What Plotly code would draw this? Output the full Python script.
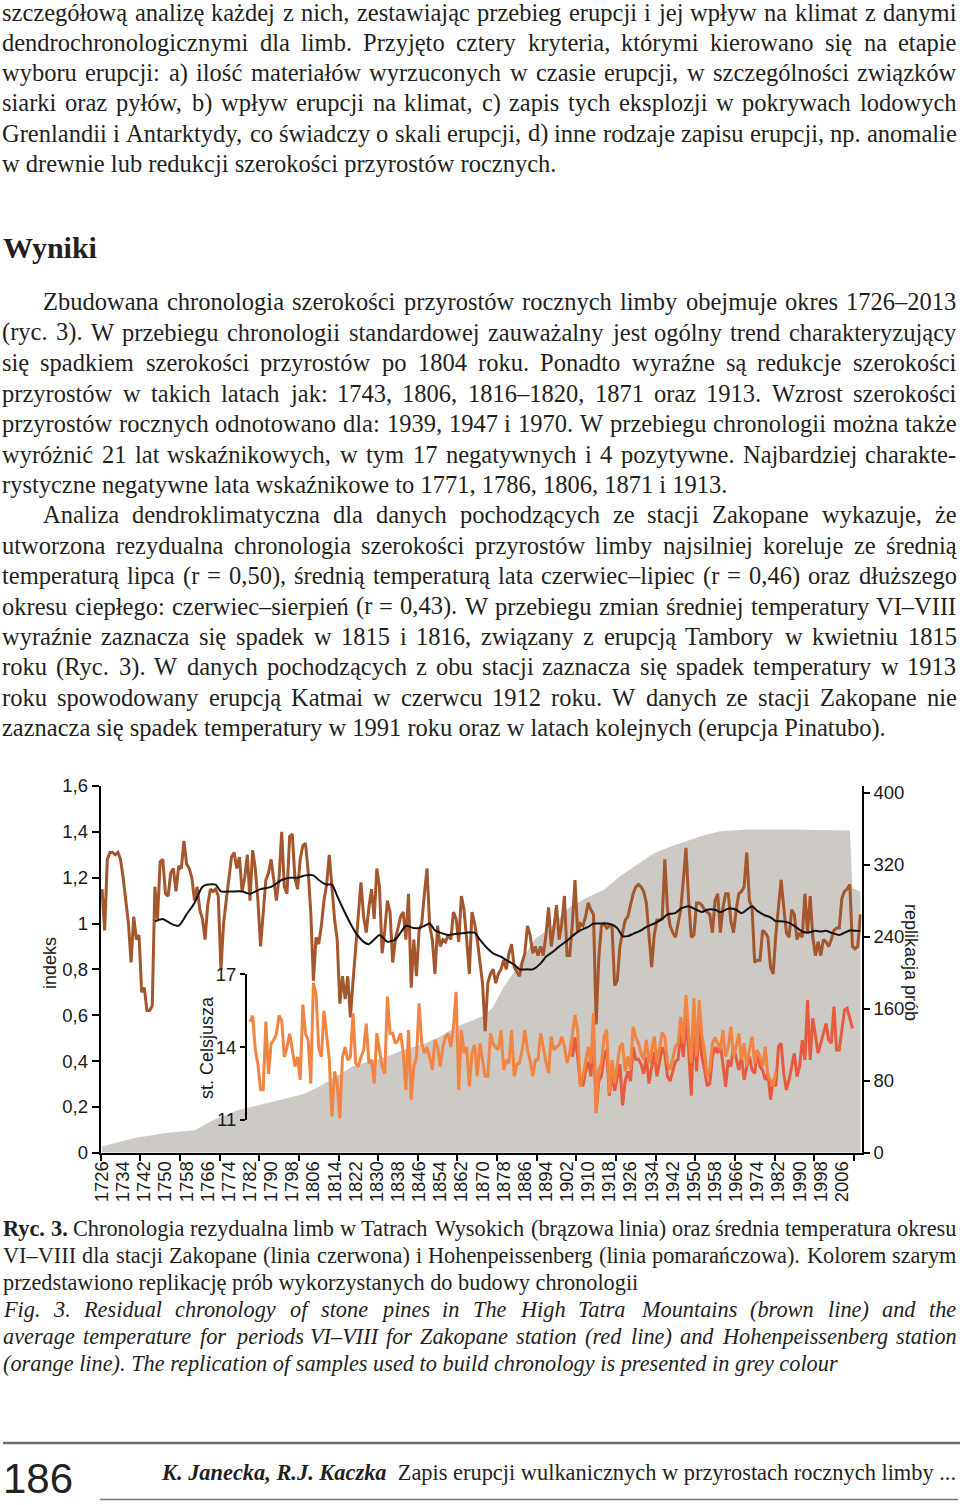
import plotly.graph_objects as go

W, H = 960, 1505

# ---- data ----
years = list(range(1726, 2014))
brown_index = [
    1.15, 0.97, 1.28, 1.31, 1.31, 1.30, 1.31, 1.28, 1.20, 1.10,
    1.00, 0.83, 1.03, 0.93, 0.95, 0.70, 0.72, 0.62, 0.62, 0.64,
    1.16, 1.02, 1.27, 1.28, 1.13, 1.12, 1.22, 1.24, 1.14, 1.25,
    1.24, 1.36, 1.26, 1.24, 1.20, 1.10, 1.16, 1.06, 1.02, 0.93,
    1.08, 1.15, 1.14, 1.15, 1.12, 0.80, 1.00, 1.10, 1.20, 1.29,
    1.31, 1.24, 1.29, 1.14, 1.20, 1.30, 1.10, 1.32, 1.24, 1.10,
    0.90, 1.05, 1.19, 1.22, 1.28, 1.19, 1.10, 1.20, 1.40, 1.16,
    1.13, 1.38, 1.39, 1.20, 1.15, 1.28, 1.34, 1.35, 1.23, 1.05,
    0.75, 0.94, 0.91, 0.99, 1.10, 1.17, 1.30, 1.16, 1.02, 0.93,
    0.65, 0.77, 0.67, 0.77, 0.59, 0.75, 0.90, 1.05, 1.18, 1.03,
    0.96, 1.07, 1.15, 1.02, 1.24, 1.16, 0.87, 0.97, 1.10, 1.05,
    0.83, 0.93, 0.98, 1.03, 1.05, 0.93, 1.13, 0.72, 0.93, 0.77,
    0.97, 1.00, 1.13, 1.24, 0.99, 0.93, 0.78, 0.99, 0.90, 0.93,
    0.92, 0.95, 0.93, 1.05, 1.02, 0.92, 1.12, 1.06, 0.93, 0.78,
    1.05, 1.00, 0.93, 0.82, 0.74, 0.53, 0.74, 0.78, 0.80, 0.74,
    0.78, 0.80, 0.84, 0.80, 0.87, 0.91, 0.81, 0.79, 0.77, 0.83,
    0.87, 0.99, 0.95, 0.87, 0.90, 0.86, 0.90, 0.86, 0.95, 1.07,
    0.90, 0.98, 1.08, 0.93, 1.00, 1.12, 0.86, 0.86, 1.00, 1.19,
    0.96, 1.00, 0.99, 1.03, 1.09, 1.06, 1.04, 0.56, 0.85, 0.99,
    1.00, 0.98, 0.99, 0.99, 0.73, 0.75, 0.90, 0.96, 1.015, 1.03,
    1.08, 1.13, 1.16, 1.17, 1.16, 1.14, 1.09, 0.96, 0.81, 0.95,
    1.015, 1.015, 1.02, 1.28, 1.06, 0.99, 0.96, 0.94, 1.00, 1.06,
    1.19, 1.33, 1.10, 0.94, 0.95, 1.09, 1.09, 1.08, 1.06, 1.05,
    1.04, 0.96, 1.10, 1.13, 0.96, 1.07, 1.13, 1.13, 1.01, 0.96,
    1.06, 1.13, 1.14, 1.16, 1.31, 1.10, 1.07, 0.83, 0.84, 0.84,
    0.97, 0.96, 0.94, 0.81, 0.78, 0.95, 1.07, 1.19, 1.07, 0.96,
    0.94, 1.06, 1.04, 0.93, 0.96, 0.94, 1.13, 0.96, 1.12, 0.94,
    0.86, 0.92, 0.86, 0.93, 0.92, 0.90, 0.93, 0.97, 0.98, 0.98,
    1.11, 1.14, 1.15, 1.17, 0.90, 0.89, 0.90, 1.04,
]

smooth_years = [
    1746, 1749, 1752, 1755, 1758, 1761, 1764, 1766, 1769, 1771, 1775, 1779,
    1782, 1786, 1790, 1794, 1797, 1800, 1803, 1806, 1808, 1811, 1813, 1815,
    1817, 1820, 1822, 1825, 1827, 1829, 1831, 1833, 1834, 1837, 1839, 1841,
    1844, 1846, 1848, 1850, 1852, 1854, 1857, 1860, 1864, 1867, 1869, 1872,
    1874, 1877, 1879, 1882, 1884, 1887, 1889, 1892, 1894, 1897, 1899, 1902,
    1905, 1907, 1910, 1912, 1914, 1917, 1919, 1921, 1923, 1925, 1927, 1930,
    1932, 1935, 1938, 1940, 1943, 1945, 1948, 1950, 1953, 1955, 1958, 1960,
    1963, 1966, 1968, 1970, 1972, 1974, 1977, 1979, 1981, 1983, 1986, 1988,
    1991, 1993, 1996, 1998, 2000, 2002, 2005, 2007, 2009, 2011, 2013,
]
smooth_index = [
    1.01, 1.02, 1.00, 0.99, 1.04, 1.09, 1.16, 1.17, 1.17, 1.14, 1.14, 1.14,
    1.13, 1.15, 1.16, 1.19, 1.20, 1.20, 1.21, 1.21, 1.19, 1.17, 1.17, 1.12,
    1.07, 1.00, 0.96, 0.92, 0.91, 0.93, 0.95, 0.93, 0.92, 0.93, 0.96, 0.99,
    0.98, 0.98, 0.99, 1.00, 0.97, 0.96, 0.95, 0.955, 0.96, 0.96, 0.93, 0.89,
    0.87, 0.855, 0.84, 0.82, 0.80, 0.80, 0.80, 0.826, 0.855, 0.88, 0.90, 0.925,
    0.955, 0.97, 0.985, 1.00, 1.00, 1.00, 0.995, 0.98, 0.945, 0.945, 0.955, 0.97,
    0.985, 1.00, 1.02, 1.04, 1.045, 1.065, 1.075, 1.065, 1.05, 1.06, 1.06, 1.05,
    1.065, 1.06, 1.045, 1.06, 1.075, 1.055, 1.035, 1.027, 1.01, 1.01, 1.003, 0.99,
    0.965, 0.96, 0.968, 0.965, 0.968, 0.96, 0.95, 0.96, 0.97, 0.968, 0.968,
]

hohen_years = list(range(1782, 1982))
hohen_temp = [
    15.05, 15.3, 13.9, 13.3, 12.25, 12.25, 15.05, 12.9, 14.15, 14.3,
    14.55, 15.3, 15.1, 13.6, 14.0, 14.55, 13.9, 13.2, 13.6, 12.65,
    15.75, 14.55, 14.3, 12.5, 16.65, 16.2, 14.0, 13.6, 15.5, 14.6,
    13.5, 11.15, 13.0, 12.5, 11.07, 13.6, 14.0, 13.47, 13.6, 15.39,
    13.33, 13.2, 13.6, 13.88, 14.97, 13.33, 13.47, 12.51, 14.57, 13.88,
    13.2, 12.92, 16.08, 14.57, 14.57, 14.16, 14.29, 14.57, 13.75, 12.24,
    14.7, 11.84, 13.2, 13.6, 15.8, 14.16, 13.75, 14.0, 13.6, 13.06,
    14.3, 14.0, 13.2, 14.0, 14.43, 14.57, 14.0, 14.84, 16.28, 12.24,
    14.7, 13.75, 14.0, 12.38, 13.75, 14.1, 12.8, 14.16, 13.5, 12.8,
    12.8, 14.57, 14.16, 14.0, 13.9, 14.7, 13.06, 13.47, 13.34, 14.7,
    12.8, 13.3, 13.34, 13.9, 14.7, 13.9, 13.47, 12.8, 13.47, 13.47,
    14.57, 13.9, 13.4, 12.93, 14.43, 13.9, 14.02, 14.1, 14.43, 14.02,
    13.34, 13.75, 14.5, 15.33, 14.71, 12.38, 12.79, 13.4, 14.02, 13.34,
    15.4, 11.28, 13.06, 13.34, 14.43, 14.71, 12.1, 13.47, 12.52, 13.3,
    14.02, 14.16, 13.0, 13.61, 13.06, 14.85, 14.4, 14.16, 13.75, 13.47,
    14.3, 13.34, 13.9, 14.43, 13.34, 14.02, 14.6, 14.43, 13.34, 13.06,
    13.5, 14.02, 14.16, 15.25, 14.16, 16.15, 14.6, 13.34, 16.01, 13.61,
    15.94, 14.5, 13.89, 12.79, 13.06, 14.16, 14.4, 14.16, 13.89, 14.7,
    13.61, 14.02, 14.84, 13.61, 14.02, 14.57, 13.47, 14.16, 13.2, 13.88,
    14.43, 13.33, 13.88, 13.61, 13.2, 14.02, 12.79, 12.65, 12.38, 13.0,
]

zakopane_years = list(range(1904, 2011))
zakopane_temp = [
    13.6, 14.4, 13.6, 12.5, 12.4, 13.0, 13.4, 12.8, 14.6, 11.3,
    12.6, 12.8, 13.6, 13.9, 12.0, 12.9, 12.2, 12.8, 13.3, 11.6,
    12.6, 13.0, 12.6, 14.0, 13.5, 13.5, 13.3, 12.9, 13.6, 12.5,
    13.2, 13.8, 12.8, 13.4, 14.0, 13.7, 12.8, 12.6, 13.0, 13.4,
    13.5, 14.6, 13.6, 15.2, 13.9, 12.0, 15.0, 13.0, 14.9, 13.6,
    13.1, 12.4, 12.5, 13.6, 14.0, 13.75, 14.16, 13.3, 12.38, 13.47,
    13.2, 14.02, 13.5, 13.06, 13.61, 12.65, 13.2, 13.61, 13.06, 12.92,
    13.88, 13.2, 13.06, 12.65, 12.92, 11.84, 12.65, 12.38, 14.02, 14.16,
    12.92, 12.24, 12.65, 13.2, 13.75, 12.79, 13.2, 14.29, 13.47, 15.94,
    13.47, 15.19, 14.43, 13.75, 14.16, 14.57, 14.97, 14.29, 14.16, 15.67,
    13.88, 13.88, 14.84, 15.53, 15.6, 15.12, 14.77,
]

depth_years = [
    1726, 1738, 1750, 1761, 1768, 1777, 1784, 1795, 1802, 1808, 1815, 1821,
    1827, 1834, 1840, 1848, 1854, 1860, 1866, 1871, 1874, 1878, 1884, 1890,
    1895, 1903, 1910, 1916, 1922, 1929, 1935, 1941, 1948, 1954, 1960, 1970,
    1985, 2009, 2010, 2013,
]
depth_count = [
    7, 16, 22, 25, 36, 47, 52, 60, 65, 73, 85, 96,
    101, 107, 114, 121, 129, 140, 147, 153, 162, 184, 210, 238,
    248, 273, 284, 292, 307, 321, 333, 340, 347, 353, 357, 359,
    359, 358, 294, 290,
]

year_labels = ['1726', '1734', '1742', '1750', '1758', '1766', '1774', '1782',
               '1790', '1798', '1806', '1814', '1822', '1830', '1838', '1846',
               '1854', '1862', '1870', '1878', '1886', '1894', '1902', '1910',
               '1918', '1926', '1934', '1942', '1950', '1958', '1966', '1974',
               '1982', '1990', '1998', '2006']
index_ticks = [0, 0.2, 0.4, 0.6, 0.8, 1.0, 1.2, 1.4, 1.6]
index_labels = ['0', '0,2', '0,4', '0,6', '0,8', '1', '1,2', '1,4', '1,6']
depth_ticks = [0, 80, 160, 240, 320, 400]
temp_ticks = [11, 14, 17]

# ---- page text (True = justified line) ----
intro_lines = [
    ('szczegółową analizę każdej z nich, zestawiając przebieg erupcji i jej wpływ na klimat z danymi', True),
    ('dendrochronologicznymi dla limb. Przyjęto cztery kryteria, którymi kierowano się na etapie', True),
    ('wyboru erupcji: a) ilość materiałów wyrzuconych w czasie erupcji, w szczególności związków', True),
    ('siarki oraz pyłów, b) wpływ erupcji na klimat, c) zapis tych eksplozji w pokrywach lodowych', True),
    ('Grenlandii i Antarktydy, co świadczy o skali erupcji, d) inne rodzaje zapisu erupcji, np. anomalie', True),
    ('w drewnie lub redukcji szerokości przyrostów rocznych.', False),
]
# (text, indented, justified)
results_lines = [
    ('Zbudowana chronologia szerokości przyrostów rocznych limby obejmuje okres 1726–2013', True, True),
    ('(ryc. 3). W przebiegu chronologii standardowej zauważalny jest ogólny trend charakteryzujący', False, True),
    ('się spadkiem szerokości przyrostów po 1804 roku. Ponadto wyraźne są redukcje szerokości', False, True),
    ('przyrostów w takich latach jak: 1743, 1806, 1816–1820, 1871 oraz 1913. Wzrost szerokości', False, True),
    ('przyrostów rocznych odnotowano dla: 1939, 1947 i 1970. W przebiegu chronologii można także', False, True),
    ('wyróżnić 21 lat wskaźnikowych, w tym 17 negatywnych i 4 pozytywne. Najbardziej charakte-', False, True),
    ('rystyczne negatywne lata wskaźnikowe to 1771, 1786, 1806, 1871 i 1913.', False, False),
    ('Analiza dendroklimatyczna dla danych pochodzących ze stacji Zakopane wykazuje, że', True, True),
    ('utworzona rezydualna chronologia szerokości przyrostów limby najsilniej koreluje ze średnią', False, True),
    ('temperaturą lipca (r = 0,50), średnią temperaturą lata czerwiec–lipiec (r = 0,46) oraz dłuższego', False, True),
    ('okresu ciepłego: czerwiec–sierpień (r = 0,43). W przebiegu zmian średniej temperatury VI–VIII', False, True),
    ('wyraźnie zaznacza się spadek w 1815 i 1816, związany z erupcją Tambory w kwietniu 1815', False, True),
    ('roku (Ryc. 3). W danych pochodzących z obu stacji zaznacza się spadek temperatury w 1913', False, True),
    ('roku spowodowany erupcją Katmai w czerwcu 1912 roku. W danych ze stacji Zakopane nie', False, True),
    ('zaznacza się spadek temperatury w 1991 roku oraz w latach kolejnych (erupcja Pinatubo).', False, False),
]
caption_pl = [
    ('<b>Ryc.</b> <b>3.</b> Chronologia rezydualna limb w Tatrach Wysokich (brązowa linia) oraz średnia temperatura okresu', True),
    ('VI–VIII dla stacji Zakopane (linia czerwona) i Hohenpeissenberg (linia pomarańczowa). Kolorem szarym', True),
    ('przedstawiono replikację prób wykorzystanych do budowy chronologii', False),
]
caption_en = [
    ('Fig. 3. Residual chronology of stone pines in The High Tatra Mountains (brown line) and the', True),
    ('average temperature for periods VI–VIII for Zakopane station (red line) and Hohenpeissenberg station', True),
    ('(orange line). The replication of samples used to build chronology is presented in grey colour', False),
]

SERIF = 'Liberation Serif, Times New Roman, serif'
SANS = 'Liberation Sans, Arial, sans-serif'
TXT = '#231f20'

# Times / Liberation Serif advance widths (1/1000 em), used to justify lines
_low = 'abcdefghijklmnopqrstuvwxyz'
_up = 'ABCDEFGHIJKLMNOPQRSTUVWXYZ'
ROMAN = dict(zip(_low, [444, 500, 444, 500, 444, 333, 500, 500, 278, 278, 500, 278, 778,
                        500, 500, 500, 500, 333, 389, 278, 500, 500, 722, 500, 500, 444]))
ROMAN.update(zip(_up, [722, 667, 667, 722, 611, 556, 722, 722, 333, 389, 722, 611, 889,
                       722, 722, 556, 722, 667, 556, 611, 722, 722, 944, 722, 722, 611]))
ITALIC = dict(zip(_low, [500, 500, 444, 500, 444, 278, 500, 500, 278, 278, 444, 278, 722,
                         500, 500, 500, 500, 389, 389, 278, 500, 444, 667, 444, 444, 389]))
ITALIC.update(zip(_up, [611, 611, 667, 722, 611, 611, 722, 722, 333, 444, 667, 556, 833,
                        667, 722, 611, 722, 611, 500, 556, 722, 611, 833, 611, 556, 556]))
BOLD = dict(zip(_low, [500, 556, 444, 556, 444, 333, 500, 556, 278, 333, 556, 278, 833,
                       556, 500, 556, 556, 444, 389, 333, 556, 500, 722, 500, 500, 444]))
BOLD.update({'R': 722})
for tbl in (ROMAN, ITALIC, BOLD):
    tbl.update({c: 500 for c in '0123456789'})
    tbl.update({' ': 250, ',': 250, '.': 250, ':': 278, ';': 278, '(': 333, ')': 333,
                '-': 333, '–': 500, '=': 564})
ITALIC[':'] = 333
BASE = dict(zip('ąćęłńóśźżĄĆĘŁŃÓŚŹŻ', 'acelnoszzACELNOSZZ'))


def word_width(word, size, table):
    return sum(table.get(BASE.get(c, c), 500) for c in word) * size / 1000


def fx(p):
    return p / W


def fy(p):
    return 1 - p / H


def text_line(text, left, yc, size, justify, italic=False, right=957.5):
    """Annotations for one line of page text; justified lines are set word by word."""
    font = dict(family=SERIF, size=size, color=TXT)
    if not justify:
        t = '<i>' + text + '</i>' if italic else text
        return [dict(text=t, x=fx(left), y=fy(yc), xanchor='left', font=font)]
    words = text.split(' ')
    widths = []
    for w in words:
        if w.startswith('<b>'):
            widths.append(word_width(w[3:-4], size, BOLD))
        else:
            widths.append(word_width(w, size, ITALIC if italic else ROMAN))
    avail = (right - 3) - left
    gap = max((avail - sum(widths)) / (len(words) - 1), 0.18 * size)
    out, pos = [], left
    for w, wd in zip(words, widths):
        t = '<i>' + w + '</i>' if italic else w
        out.append(dict(text=t, x=fx(pos), y=fy(yc), xanchor='left', font=font))
        pos += wd + gap
    return out


fig = go.Figure()

fig.add_trace(go.Scatter(
    x=depth_years, y=depth_count, yaxis='y', mode='lines',
    fill='tozeroy', fillcolor='#cdc9c5', line=dict(width=0, color='#cdc9c5'),
    hoverinfo='skip', showlegend=False))
fig.add_trace(go.Scatter(
    x=years, y=brown_index, yaxis='y2', mode='lines',
    line=dict(color='#a4562c', width=3), showlegend=False))
fig.add_trace(go.Scatter(
    x=smooth_years, y=smooth_index, yaxis='y2', mode='lines',
    line=dict(color='#111111', width=2, shape='spline', smoothing=0.6),
    showlegend=False))
fig.add_trace(go.Scatter(
    x=zakopane_years, y=zakopane_temp, yaxis='y3', mode='lines',
    line=dict(color='#e85a3e', width=3), showlegend=False))
fig.add_trace(go.Scatter(
    x=hohen_years, y=hohen_temp, yaxis='y3', mode='lines',
    line=dict(color='#f28442', width=3), showlegend=False))

x0, x1 = 100.7, 861.7          # plot area, px
y_bot, y_top = 1152.7, 786.0   # 0 and 1,6 on the index axis
TICKFONT = dict(family=SANS, size=18.5, color='#1a1a1a')

fig.update_layout(
    width=W, height=H, autosize=False,
    margin=dict(l=0, r=0, t=0, b=0, pad=0, autoexpand=False),
    paper_bgcolor='white', plot_bgcolor='rgba(0,0,0,0)',
    font=dict(family=SANS, size=18, color='#1a1a1a'),
    xaxis=dict(
        domain=[fx(x0), fx(x1)], range=[1725.5, 2013.5], anchor='y',
        automargin=False,
        showline=True, linecolor='black', linewidth=2,
        tickmode='array', tickvals=[int(v) for v in year_labels], ticktext=year_labels,
        tickangle=-90, ticks='outside', ticklen=6, tickcolor='rgba(0,0,0,0)',
        ticklabelstandoff=-7,
        tickfont=TICKFONT,
        minor=dict(tickmode='array', tickvals=[1725.5 + 15 * k for k in range(20)],
                   ticks='outside', ticklen=6, tickwidth=1.5, tickcolor='black',
                   showgrid=False),
        showgrid=False, zeroline=False),
    yaxis=dict(
        domain=[fy(y_bot), fy(y_top)], range=[0, 407.4], side='right', anchor='x',
        automargin=False,
        showline=True, linecolor='black', linewidth=2,
        tickmode='array', tickvals=depth_ticks, tickfont=TICKFONT,
        ticks='outside', ticklen=6, tickwidth=1.5, tickcolor='black',
        showgrid=False, zeroline=False),
    yaxis2=dict(
        overlaying='y', side='left', anchor='x', range=[0, 1.6],
        automargin=False,
        showline=True, linecolor='black', linewidth=2,
        tickmode='array', tickvals=index_ticks, ticktext=index_labels,
        tickfont=TICKFONT,
        ticks='outside', ticklen=7, tickwidth=1.5, tickcolor='black',
        showgrid=False, zeroline=False),
    yaxis3=dict(
        domain=[fy(1120.0), fy(974.3)], range=[11, 17], anchor='free',
        position=fx(245.7), side='left', automargin=False,
        showline=True, linecolor='black', linewidth=1.5,
        tickmode='array', tickvals=temp_ticks, tickfont=TICKFONT,
        ticks='outside', ticklen=5, tickwidth=1.5, tickcolor='black',
        ticklabelstandoff=0,
        showgrid=False, zeroline=False),
)

ann = []
# axis titles
title_font = dict(family=SANS, size=18, color='#1a1a1a')
ann.append(dict(text='indeks', x=fx(50), y=fy(963), textangle=-90, font=title_font))
ann.append(dict(text='st. Celsjusza', x=fx(207), y=fy(1048), textangle=-90, font=title_font))
ann.append(dict(text='replikacja prób', x=fx(911), y=fy(962), textangle=90, font=title_font))

for i, (line, just) in enumerate(intro_lines):
    ann += text_line(line, 0, 12 + 30.3 * i, 24.5, just)
ann.append(dict(text='<b>Wyniki</b>', x=fx(1), y=fy(247), xanchor='left',
                font=dict(family=SERIF, size=30, color=TXT)))
for i, (line, indent, just) in enumerate(results_lines):
    ann += text_line(line, 41 if indent else 0, 302 + 30.4 * i, 24.5, just)

for i, (line, just) in enumerate(caption_pl):
    ann += text_line(line, 1, 1228 + 27 * i, 22.3, just)
for i, (line, just) in enumerate(caption_en):
    ann += text_line(line, 1, 1309 + 27 * i, 22.3, just, italic=True)

# footer
ann.append(dict(text='186', x=fx(1), y=fy(1504), xanchor='left', yanchor='bottom',
                font=dict(family='Liberation Sans Narrow, Liberation Sans',
                          size=42, color='#222222')))
ann.append(dict(text='<b><i>K. Janecka, R.J. Kaczka</i></b>  Zapis erupcji wulkanicznych '
                     'w przyrostach rocznych limby ...',
                x=fx(159), y=fy(1472), xanchor='left',
                font=dict(family=SERIF, size=22.4, color=TXT)))

for a in ann:
    a.setdefault('xref', 'paper')
    a.setdefault('yref', 'paper')
    a.setdefault('showarrow', False)
    a.setdefault('yanchor', 'middle')
    a.setdefault('xanchor', 'center')

fig.update_layout(
    annotations=ann,
    shapes=[
        dict(type='line', xref='paper', yref='paper', x0=fx(3), x1=fx(960),
             y0=fy(1443), y1=fy(1443), line=dict(color='#6d6d6d', width=2.5)),
        dict(type='line', xref='paper', yref='paper', x0=fx(100), x1=fx(958),
             y0=fy(1499.5), y1=fy(1499.5), line=dict(color='#7a7a7a', width=1.5)),
    ],
)

# the figure is exactly page-sized, so drop the browser's default body margin
fig.write_html('out.html', config={'displayModeBar': False},
               post_script="document.body.style.margin='0';"
                           "document.body.style.overflow='hidden';")
